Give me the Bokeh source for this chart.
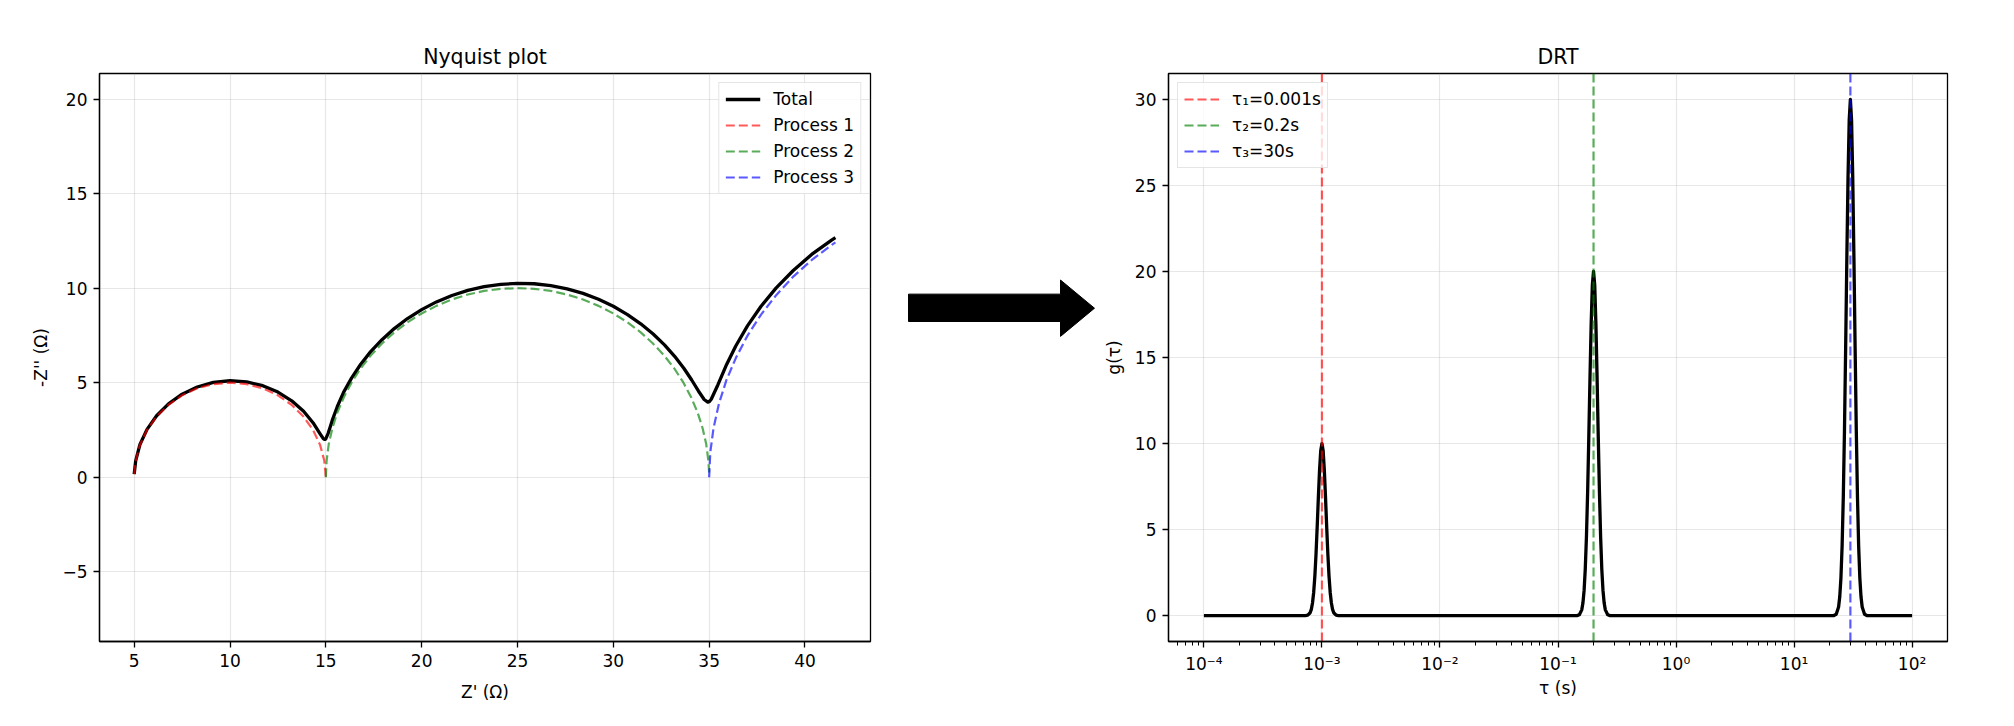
from bokeh.plotting import figure
from bokeh.layouts import row
from bokeh.models import Range1d, FixedTicker, CustomJSTickFormatter
from bokeh.embed import file_html
from bokeh.resources import INLINE

FONT = "DejaVu Sans"

# ---------------- Nyquist data ----------------
total_re = [5.00, 5.08, 5.30, 5.67, 6.17, 6.79, 7.50, 8.29, 9.13, 10.00, 10.87, 11.71,
            12.50, 13.22, 13.84, 14.34, 14.71, 14.86, 14.91, 14.95, 14.99, 15.12, 15.24,
            15.33, 15.60, 15.93, 16.34, 16.81, 17.34, 17.93, 18.57, 19.26, 20.00, 20.77,
            21.58, 22.41, 23.26, 24.13, 25.00, 25.87, 26.74, 27.59, 28.42, 29.23, 30.00,
            30.74, 31.43, 32.08, 32.67, 33.20, 33.68, 34.09, 34.44, 34.74, 34.93, 35.02,
            35.11, 35.46, 35.88, 36.39, 37.00, 37.70, 38.50, 39.39, 40.35, 41.39, 41.59]
total_im = [0.16, 0.88, 1.73, 2.53, 3.25, 3.88, 4.39, 4.77, 5.01, 5.10, 5.04, 4.84,
            4.50, 4.04, 3.49, 2.87, 2.28, 2.05, 2.01, 2.00, 2.01, 2.32, 2.70,
            2.99, 3.74, 4.50, 5.24, 5.96, 6.64, 7.27, 7.86, 8.39, 8.86, 9.27,
            9.61, 9.88, 10.08, 10.20, 10.25, 10.23, 10.13, 9.96, 9.72, 9.41, 9.04,
            8.60, 8.11, 7.57, 7.00, 6.39, 5.76, 5.14, 4.56, 4.11, 3.97, 4.01,
            4.12, 4.89, 5.89, 6.94, 8.00, 9.03, 10.01, 10.93, 11.78, 12.54, 12.67]

p1_re = [5.00, 5.08, 5.30, 5.67, 6.17, 6.79, 7.50, 8.29, 9.13, 10.00, 10.87, 11.71,
         12.50, 13.21, 13.83, 14.33, 14.70, 14.92, 15.00]
p1_im = [0.16, 0.87, 1.71, 2.50, 3.21, 3.83, 4.33, 4.70, 4.92, 5.00, 4.92, 4.70,
         4.33, 3.83, 3.21, 2.50, 1.71, 0.87, 0.00]

p2_re = [15.00, 15.04, 15.15, 15.34, 15.60, 15.94, 16.34, 16.81, 17.34, 17.93, 18.57,
         19.26, 20.00, 20.77, 21.58, 22.41, 23.26, 24.13, 25.00, 25.87, 26.74, 27.59,
         28.42, 29.23, 30.00, 30.74, 31.43, 32.07, 32.66, 33.19, 33.66, 34.06, 34.40,
         34.66, 34.85, 34.96, 35.00]
p2_im = [0.00, 0.87, 1.74, 2.59, 3.42, 4.23, 5.00, 5.74, 6.43, 7.07, 7.66,
         8.19, 8.66, 9.06, 9.40, 9.66, 9.85, 9.96, 10.00, 9.96, 9.85, 9.66,
         9.40, 9.06, 8.66, 8.19, 7.66, 7.07, 6.43, 5.74, 5.00, 4.23, 3.42,
         2.59, 1.74, 0.87, 0.25]

p3_re = [35.00, 35.06, 35.23, 35.51, 35.90, 36.41, 37.01, 37.71, 38.51, 39.39, 40.36,
         41.40, 41.59]
p3_im = [0.00, 1.31, 2.60, 3.88, 5.13, 6.34, 7.50, 8.60, 9.64, 10.61, 11.49,
         12.29, 12.42]

nyq_labels = ["Total", "Process 1", "Process 2", "Process 3"]
nyq_xticks = [5, 10, 15, 20, 25, 30, 35, 40]
nyq_yticks = [-5, 0, 5, 10, 15, 20]

# ---------------- DRT data ----------------
tau_peak1 = [0.0007244, 0.0007586, 0.0007943, 0.0008128, 0.0008318, 0.0008511, 0.000871,
             0.0008913, 0.000912, 0.0009333, 0.000955, 0.0009772, 0.001, 0.0010233,
             0.0010471, 0.0010715, 0.0010965, 0.001122, 0.0011482, 0.0011749, 0.0012023,
             0.0012303, 0.0012589, 0.0013183, 0.0013804]
g_peak1 = [0.003, 0.028, 0.169, 0.367, 0.734, 1.35, 2.30, 3.60, 5.20, 6.93, 8.49, 9.60,
           10.0, 9.60, 8.49, 6.93, 5.20, 3.60, 2.30, 1.35, 0.734, 0.367, 0.169, 0.028, 0.003]
tau_peak2 = [0.1449, 0.1517, 0.1589, 0.1626, 0.1664, 0.1702, 0.1742, 0.1783, 0.1824,
             0.1867, 0.1910, 0.1954, 0.2, 0.2047, 0.2094, 0.2143, 0.2193, 0.2244, 0.2296,
             0.2350, 0.2405, 0.2461, 0.2518, 0.2637, 0.2761]
g_peak2 = [0.006, 0.056, 0.338, 0.734, 1.468, 2.70, 4.60, 7.20, 10.40, 13.86, 16.98, 19.20,
           20.0, 19.20, 16.98, 13.86, 10.40, 7.20, 4.60, 2.70, 1.468, 0.734, 0.338, 0.056, 0.006]
tau_peak3 = [21.73, 22.76, 23.83, 24.38, 24.95, 25.53, 26.13, 26.74, 27.36, 28.00, 28.65,
             29.32, 30.0, 30.70, 31.41, 32.15, 32.90, 33.66, 34.45, 35.25, 36.07, 36.91,
             37.77, 39.55, 41.41]
g_peak3 = [0.009, 0.084, 0.507, 1.101, 2.202, 4.05, 6.90, 10.80, 15.60, 20.79, 25.47, 28.80,
           30.0, 28.80, 25.47, 20.79, 15.60, 10.80, 6.90, 4.05, 2.202, 1.101, 0.507, 0.084, 0.009]
tau_ends = [1e-4, 1e2]

tau_lines = [0.001, 0.2, 30]
tau_labels = ["τ₁=0.001s", "τ₂=0.2s", "τ₃=30s"]
drt_xticks = [1e-4, 1e-3, 1e-2, 1e-1, 1, 10, 100]
drt_yticks = [0, 5, 10, 15, 20, 25, 30]

proc_colors = ["red", "green", "blue"]

drt_tau = [tau_ends[0]] + tau_peak1 + tau_peak2 + tau_peak3 + [tau_ends[1]]
drt_g = [0.0] + g_peak1 + g_peak2 + g_peak3 + [0.0]

minus_fmt = CustomJSTickFormatter(code="return tick < 0 ? '\u2212' + String(-tick) : String(tick);")
log_fmt = CustomJSTickFormatter(code="""
const e = Math.round(Math.log10(tick));
const sup = {'-':'\u207b','0':'\u2070','1':'\u00b9','2':'\u00b2','3':'\u00b3','4':'\u2074',
             '5':'\u2075','6':'\u2076','7':'\u2077','8':'\u2078','9':'\u2079'};
return '10' + String(e).split('').map(c => sup[c]).join('');
""")


def style(p):
    p.title.text_font = FONT
    p.title.text_font_size = "20.5px"
    p.title.text_font_style = "normal"
    p.title.text_color = "black"
    p.title.align = "center"
    p.outline_line_color = "black"
    p.outline_line_width = 1.3
    p.background_fill_color = "white"
    p.border_fill_color = "white"
    for ax in p.axis:
        ax.axis_line_color = "black"
        ax.axis_line_width = 1.3
        ax.major_tick_line_color = "black"
        ax.major_tick_line_width = 1.3
        ax.major_tick_out = 6
        ax.major_tick_in = 0
        ax.minor_tick_line_color = None
        ax.major_label_text_font = FONT
        ax.major_label_text_font_size = "17px"
        ax.major_label_text_color = "black"
        ax.major_label_standoff = 6
        ax.axis_label_text_font = FONT
        ax.axis_label_text_font_size = "17px"
        ax.axis_label_text_font_style = "normal"
        ax.axis_label_text_color = "black"
        ax.axis_label_standoff = 8
    for g in p.grid:
        g.grid_line_color = "#b0b0b0"
        g.grid_line_alpha = 0.3
        g.grid_line_width = 1.2


def style_legend(lg, loc):
    lg.location = loc
    lg.margin = 9
    lg.padding = 6
    lg.spacing = 6
    lg.glyph_width = 35
    lg.glyph_height = 20
    lg.label_height = 20
    lg.label_standoff = 13
    lg.label_text_font = FONT
    lg.label_text_font_size = "17px"
    lg.label_text_color = "black"
    lg.border_line_color = "#cccccc"
    lg.border_line_width = 1.3
    lg.background_fill_alpha = 0.8


# ---------------- Nyquist figure ----------------
p1 = figure(width=880, height=726, output_backend="svg", toolbar_location=None,
            x_range=Range1d(3.19, 43.42), y_range=Range1d(-8.69, 21.35),
            min_border_left=99, min_border_right=10, min_border_top=73, min_border_bottom=78,
            title="Nyquist plot")
p1.line(total_re, total_im, line_color="black", line_width=3.3, line_join="round",
        legend_label=nyq_labels[0])
for xs, ys, c, lab in zip([p1_re, p2_re, p3_re], [p1_im, p2_im, p3_im], proc_colors, nyq_labels[1:]):
    p1.line(xs, ys, line_color=c, line_alpha=0.65, line_width=2.2, line_dash="9 4",
            line_join="round", legend_label=lab)
p1.xaxis.ticker = FixedTicker(ticks=nyq_xticks)
p1.yaxis.ticker = FixedTicker(ticks=nyq_yticks)
p1.yaxis.formatter = minus_fmt
p1.xaxis.axis_label = "Z' (Ω)"
p1.yaxis.axis_label = "-Z'' (Ω)"
style(p1)
p1.xaxis.axis_label_standoff = 12
style_legend(p1.legend[0], "top_right")

# ---------------- Arrow ----------------
arrow_x = [28, 180, 180, 214, 180, 180, 28]
arrow_y = [409, 409, 390, 426, 462, 444, 444]
pa = figure(width=220, height=726, output_backend="svg", toolbar_location=None,
            x_range=Range1d(0, 220), y_range=Range1d(0, 726), x_axis_type=None, y_axis_type=None,
            min_border=0, outline_line_color=None)
pa.patch(arrow_x, arrow_y, fill_color="black", line_color="black")

# ---------------- DRT figure ----------------
y0, y1 = -1.5, 31.5
p2 = figure(width=914, height=726, output_backend="svg", toolbar_location=None,
            x_axis_type="log", x_range=Range1d(5.012e-5, 199.5), y_range=Range1d(y0, y1),
            min_border_left=67, min_border_right=67, min_border_top=60, min_border_bottom=85,
            title="DRT")
p2.line(drt_tau, drt_g, line_color="black", line_width=3.3, line_join="round")
for t, c, lab in zip(tau_lines, proc_colors, tau_labels):
    p2.line([t, t], [y0, y1], line_color=c, line_alpha=0.65, line_width=2.2, line_dash="9 4",
            legend_label=lab)
minor = [m * 10.0 ** k for k in range(-5, 3) for m in range(2, 10)]
p2.xaxis.ticker = FixedTicker(ticks=drt_xticks, minor_ticks=minor)
p2.xaxis.formatter = log_fmt
p2.yaxis.ticker = FixedTicker(ticks=drt_yticks)
p2.xaxis.axis_label = "τ (s)"
p2.yaxis.axis_label = "g(τ)"
style(p2)
p2.xaxis.axis_label_standoff = 1
p2.xaxis.minor_tick_line_color = "black"
p2.xaxis.minor_tick_line_width = 1
p2.xaxis.minor_tick_out = 4
p2.xaxis.minor_tick_in = 0
style_legend(p2.legend[0], "top_left")

layout = row(p1, pa, p2)
open("out.html", "w").write(file_html(layout, INLINE))
